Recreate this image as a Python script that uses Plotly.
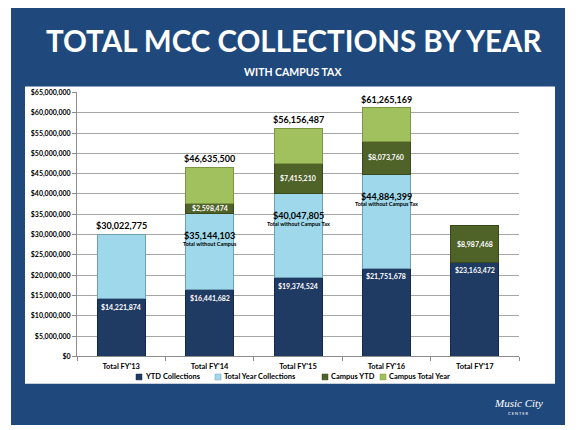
import plotly.graph_objects as go

years = ["Total FY'13", "Total FY'14", "Total FY'15", "Total FY'16", "Total FY'17"]
ytd_collections = [14221874, 16441682, 19374524, 21751678, 23163472]
total_without_campus = [30022775, 35144103, 40047805, 44884399, None]
campus_ytd = [None, 2598474, 7415210, 8073760, 8987468]
grand_total = [30022775, 46635500, 56156487, 61265169, None]
without_campus_notes = [None, "Total without Campus", "Total without Campus Tax",
                        "Total without Campus Tax", None]

series_names = ["YTD Collections", "Total Year Collections", "Campus YTD", "Campus Total Year"]
series_colors = ["#1f3a63", "#9ed8ea", "#4f6228", "#a0c15e"]
series_edges = ["#13284a", "#6f9fb2", "#3a481d", "#7c9645"]

FONT = "Lato"
# page body adds an 8px margin, so the figure is 8px smaller and positions are screen px
OFF = 8
W, H = 585 - OFF, 430 - OFF


def px_x(v):
    return (v - OFF) / W


def px_y(v):
    return 1 - (v - OFF) / H


def money(v):
    return f"${v:,.0f}"


# stacked segment heights from the labelled totals
total_year_part = [t - y if t else None for t, y in zip(total_without_campus, ytd_collections)]
campus_total_part = [g - t - c if (g and t and c) else None
                     for g, t, c in zip(grand_total, total_without_campus, campus_ytd)]
segments = [ytd_collections, total_year_part, campus_ytd, campus_total_part]

fig = go.Figure()
for name, vals, col, edge in zip(series_names, segments, series_colors, series_edges):
    fig.add_trace(go.Bar(x=years, y=vals, name=name, showlegend=False,
                         marker=dict(color=col, line=dict(color=edge, width=1))))

annotations = []
for i, yr in enumerate(years):
    # YTD label, white, near top of the dark segment
    annotations.append(dict(x=yr, y=ytd_collections[i], text=money(ytd_collections[i]),
                            yanchor="top", yshift=-2, showarrow=False,
                            font=dict(family=FONT, size=7, color="white", weight="bold")))
    if campus_ytd[i]:
        base = total_without_campus[i] or ytd_collections[i]
        annotations.append(dict(x=yr, y=base + campus_ytd[i] / 2, text=money(campus_ytd[i]),
                                yanchor="middle", showarrow=False,
                                font=dict(family=FONT, size=7, color="white", weight="bold")))
    if without_campus_notes[i]:
        annotations.append(dict(x=yr, y=total_without_campus[i], text=money(total_without_campus[i]),
                                yanchor="middle", yshift=-22, showarrow=False,
                                font=dict(family=FONT, size=9, color="black", weight="bold")))
        annotations.append(dict(x=yr, y=total_without_campus[i], text=without_campus_notes[i],
                                yanchor="middle", yshift=-30, showarrow=False,
                                font=dict(family=FONT, size=5.5, color="black", weight="bold")))
    if grand_total[i]:
        annotations.append(dict(x=yr, y=grand_total[i], text=money(grand_total[i]),
                                yanchor="bottom", yshift=1, showarrow=False,
                                font=dict(family=FONT, size=9, color="black", weight="bold")))

# slide title, subtitle and logo text
annotations += [
    dict(xref="paper", yref="paper", x=px_x(294), y=px_y(36), text="TOTAL MCC COLLECTIONS BY YEAR",
         showarrow=False, xanchor="center", yanchor="middle",
         font=dict(family=FONT, size=29.5, color="white", weight="bold")),
    dict(xref="paper", yref="paper", x=px_x(293), y=px_y(68), text="WITH CAMPUS TAX",
         showarrow=False, xanchor="center", yanchor="middle",
         font=dict(family=FONT, size=10.5, color="white", weight="bold")),
    dict(xref="paper", yref="paper", x=px_x(518), y=px_y(406), text="<i>Music City</i>",
         showarrow=False, xanchor="center", yanchor="middle",
         font=dict(family="Liberation Serif", size=11, color="white")),
    dict(xref="paper", yref="paper", x=px_x(518), y=px_y(416), text="C E N T E R",
         showarrow=False, xanchor="center", yanchor="middle",
         font=dict(family=FONT, size=4, color="white")),
]

shapes = [
    dict(type="rect", xref="paper", yref="paper", layer="below",
         x0=px_x(11), x1=px_x(565), y0=px_y(428), y1=px_y(2),
         fillcolor="#1f497d", line=dict(width=0)),
    dict(type="rect", xref="paper", yref="paper", layer="below",
         x0=px_x(25), x1=px_x(555), y0=px_y(386), y1=px_y(83),
         fillcolor="white", line=dict(width=0)),
]

# compact legend row under the axis labels
legend_left = [136, 215, 322, 380]
legend_y = 379
for name, col, edge, lx in zip(series_names, series_colors, series_edges, legend_left):
    shapes.append(dict(type="rect", xref="paper", yref="paper",
                       x0=px_x(lx), x1=px_x(lx + 6), y0=px_y(legend_y + 3), y1=px_y(legend_y - 3),
                       fillcolor=col, line=dict(color=edge, width=0.5)))
    annotations.append(dict(xref="paper", yref="paper", x=px_x(lx + 7), y=px_y(legend_y),
                            text=name, showarrow=False, xanchor="left", yanchor="middle",
                            font=dict(family=FONT, size=7.5, color="black", weight="bold")))

fig.update_layout(
    width=W, height=H,
    margin=dict(l=0, r=0, t=0, b=0),
    paper_bgcolor="white",
    plot_bgcolor="rgba(0,0,0,0)",
    barmode="stack",
    bargap=0.457,
    showlegend=False,
    font=dict(family=FONT, color="black"),
    shapes=shapes,
    annotations=annotations,
    xaxis=dict(domain=[px_x(77), px_x(519)], showline=True, linecolor="#8c8c8c", linewidth=1,
               ticks="outside", tickson="boundaries", ticklen=4, tickcolor="#8c8c8c",
               ticklabelstandoff=3,
               tickfont=dict(family=FONT, size=7.5, color="black", weight="bold")),
    yaxis=dict(domain=[px_y(358), px_y(89)], range=[0, 65000000], dtick=5000000,
               tickformat="$,.0f", showline=True, linecolor="#8c8c8c", linewidth=1,
               ticks="outside", ticklen=4, tickcolor="#8c8c8c",
               showgrid=True, gridcolor="#a6a6a6", gridwidth=1, zeroline=False,
               tickfont=dict(family=FONT, size=7, color="black", weight="bold")),
)

fig.write_html("out.html")
